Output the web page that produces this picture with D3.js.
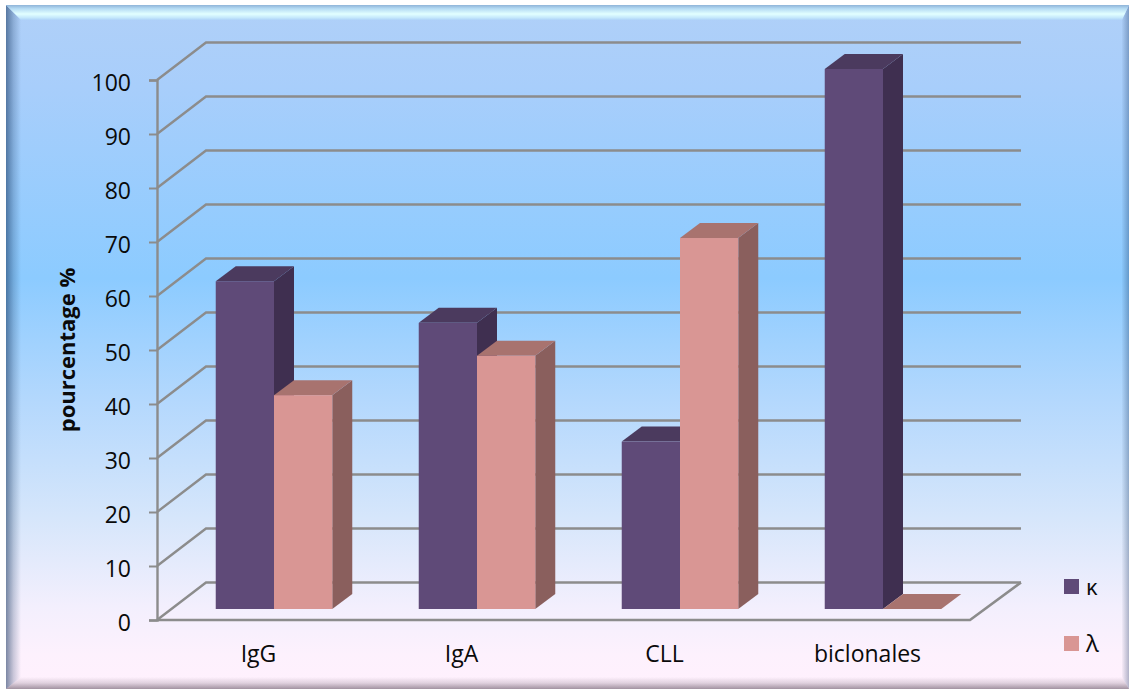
<!DOCTYPE html>
<html>
<head>
<meta charset="utf-8">
<title>pourcentage κ / λ</title>
<script src="https://cdn.jsdelivr.net/npm/d3@7"></script>
<style>
    html, body { margin: 0; padding: 0; background: #fff; overflow: hidden; }
    svg { display: block; }
    text { font-family: "Open Sans", sans-serif; fill: #0a0a0a; }
</style>
</head>
<body>
<svg id="chart" width="1129" height="689"></svg>
<script>
const categories = ["IgG", "IgA", "CLL", "biclonales"];
const seriesNames = ["κ", "λ"];
const kappaValues = [60.7, 53, 31, 100];
const lambdaValues = [39.6, 46.9, 68.7, 0];
const tickValues = [0, 10, 20, 30, 40, 50, 60, 70, 80, 90, 100];

const seriesValues = [kappaValues, lambdaValues];
const seriesColors = [
    { front: "#5f4a78", top: "#4b3a5e", side: "#3f2f50" },
    { front: "#d99694", top: "#a8736f", side: "#8a5f5d" }
];

const frame = { left: 6, top: 5, right: 1129, bottom: 689 };
const inner = { left: 21, top: 20, right: 1122, bottom: 677 };

// oblique projection of the 3d box: the wall sits behind the floor front edge
const wallDepth = { x: 49, y: -37.5 };
const barInset = { x: 15.5, y: -11 };
const barDepth = { x: 20, y: -15 };

const svg = d3.select("#chart");
const defs = svg.append("defs");

function addGradient(id, vertical, stops) {
    const g = defs.append("linearGradient").attr("id", id)
        .attr("gradientUnits", "userSpaceOnUse")
        .attr("x1", vertical ? 0 : stops.from)
        .attr("y1", vertical ? stops.from : 0)
        .attr("x2", vertical ? 0 : stops.to)
        .attr("y2", vertical ? stops.to : 0);
    stops.list.forEach(s => {
        g.append("stop").attr("offset", s[0]).attr("stop-color", s[1]).attr("stop-opacity", s[2] === undefined ? 1 : s[2]);
    });
}

addGradient("panelFill", true, { from: frame.top, to: frame.bottom, list: [
    [0, "#b0d0f8"], [0.12, "#a8cefb"], [0.4, "#8ccbff"], [0.58, "#b4d8fd"],
    [0.75, "#d6e6fb"], [0.88, "#f3effd"], [0.95, "#fdf1fd"], [1, "#fff0fd"]
] });
addGradient("topBevel", true, { from: frame.top, to: inner.top, list: [
    [0, "#8fb4d8"], [0.25, "#b6dcf4"], [0.6, "#e2ffff"], [0.85, "#c4e8fc"], [1, "#aed2f8"]
] });
addGradient("leftBevel", false, { from: frame.left, to: inner.left, list: [
    [0, "#10305a", 0.55], [0.5, "#10305a", 0.22], [1, "#10305a", 0]
] });
addGradient("rightBevel", false, { from: inner.right, to: frame.right, list: [
    [0, "#10305a", 0.03], [1, "#10305a", 0.32]
] });
addGradient("bottomBevel", true, { from: inner.bottom, to: frame.bottom, list: [
    [0, "#201020", 0], [0.5, "#201020", 0.14], [1, "#201020", 0.42]
] });

const pts = a => a.map(p => p.join(",")).join(" ");

// panel with bevelled border
const panel = svg.append("g").attr("id", "panel");
panel.append("rect")
    .attr("x", frame.left).attr("y", frame.top)
    .attr("width", frame.right - frame.left).attr("height", frame.bottom - frame.top)
    .attr("fill", "url(#panelFill)");
panel.append("polygon")
    .attr("points", pts([[frame.left, frame.top], [inner.left, inner.top], [inner.left, inner.bottom], [frame.left, frame.bottom]]))
    .attr("fill", "url(#leftBevel)");
panel.append("polygon")
    .attr("points", pts([[frame.right, frame.top], [inner.right, inner.top], [inner.right, inner.bottom], [frame.right, frame.bottom]]))
    .attr("fill", "url(#rightBevel)");
panel.append("polygon")
    .attr("points", pts([[frame.left, frame.bottom], [inner.left, inner.bottom], [inner.right, inner.bottom], [frame.right, frame.bottom]]))
    .attr("fill", "url(#bottomBevel)");
panel.append("polygon")
    .attr("points", pts([[frame.left, frame.top], [frame.right, frame.top], [inner.right, inner.top], [inner.left, inner.top]]))
    .attr("fill", "url(#topBevel)");

const y = d3.scaleLinear().domain([0, 100]).range([620, 80]);
const x = d3.scaleBand().domain(categories).range([157, 969]).paddingInner(0.426).paddingOuter(0.213);
const xSeries = d3.scaleBand().domain(seriesNames).range([0, x.bandwidth()]);

// gridlines run along the side wall, then across the back wall
const lineColor = "#8c8c8c";
const grid = svg.append("g").attr("id", "grid");
const wallLine = d3.line();
grid.selectAll("path")
    .data(tickValues)
    .join("path")
    .attr("d", d => wallLine([
        [157, y(d)],
        [157 + wallDepth.x, y(d) + wallDepth.y],
        [969 + 52, y(d) + wallDepth.y]
    ]))
    .attr("fill", "none")
    .attr("stroke", lineColor)
    .attr("stroke-width", 2.4);

// floor outline
grid.append("path")
    .attr("d", wallLine([[157, y(0)], [970, y(0)], [1021, y(0) + wallDepth.y]]))
    .attr("fill", "none")
    .attr("stroke", lineColor)
    .attr("stroke-width", 2.6);

const yAxis = svg.append("g")
    .attr("transform", "translate(157,0)")
    .call(d3.axisLeft(y).tickValues(tickValues).tickSize(8).tickPadding(18));
yAxis.select(".domain").attr("stroke", lineColor).attr("stroke-width", 2.4);
yAxis.selectAll(".tick line").attr("stroke", lineColor).attr("stroke-width", 2);
yAxis.selectAll("text").attr("font-size", 23).attr("dy", "0.44em")
    .style("font-family", "'Open Sans', sans-serif").attr("fill", "#0a0a0a");

const xAxis = svg.append("g")
    .attr("transform", "translate(0,620)")
    .call(d3.axisBottom(x).tickSize(0).tickPadding(26));
xAxis.select(".domain").remove();
xAxis.selectAll("text").attr("font-size", 23)
    .style("font-family", "'Open Sans', sans-serif").attr("fill", "#0a0a0a");

svg.append("text")
    .attr("transform", "translate(75,350) rotate(-90)")
    .attr("text-anchor", "middle")
    .attr("font-size", 22)
    .attr("font-weight", 700)
    .text("pourcentage %");

// bars: front face plus top and side faces of the oblique box
const bars = svg.append("g").attr("id", "bars");
const barData = categories.flatMap((c, i) => seriesNames.map((s, j) => ({
    category: c, series: s, value: seriesValues[j][i], color: seriesColors[j]
})));

barData.forEach(d => {
    const x0 = x(d.category) + xSeries(d.series) + barInset.x;
    const x1 = x0 + xSeries.bandwidth();
    const yBase = y(0) + barInset.y;
    const yTop = y(d.value) + barInset.y;
    const g = bars.append("g");
    g.append("polygon")
        .attr("points", pts([[x1, yTop], [x1 + barDepth.x, yTop + barDepth.y], [x1 + barDepth.x, yBase + barDepth.y], [x1, yBase]]))
        .attr("fill", d.color.side);
    g.append("polygon")
        .attr("points", pts([[x0, yTop], [x0 + barDepth.x, yTop + barDepth.y], [x1 + barDepth.x, yTop + barDepth.y], [x1, yTop]]))
        .attr("fill", d.color.top);
    if (d.value > 0) {
        g.append("rect")
            .attr("x", x0).attr("y", yTop)
            .attr("width", x1 - x0).attr("height", yBase - yTop)
            .attr("fill", d.color.front);
    }
});

// legend
const legend = svg.append("g").attr("id", "legend");
const legendRow = d3.scalePoint().domain(seriesNames).range([586.5, 643.5]);
seriesNames.forEach((s, j) => {
    legend.append("rect")
        .attr("x", 1064).attr("y", legendRow(s) - 7.5)
        .attr("width", 15).attr("height", 15)
        .attr("fill", seriesColors[j].front);
    legend.append("text")
        .attr("x", 1086).attr("y", legendRow(s) + 8)
        .attr("font-size", j ? 24 : 22)
        .text(s);
});
</script>
</body>
</html>
